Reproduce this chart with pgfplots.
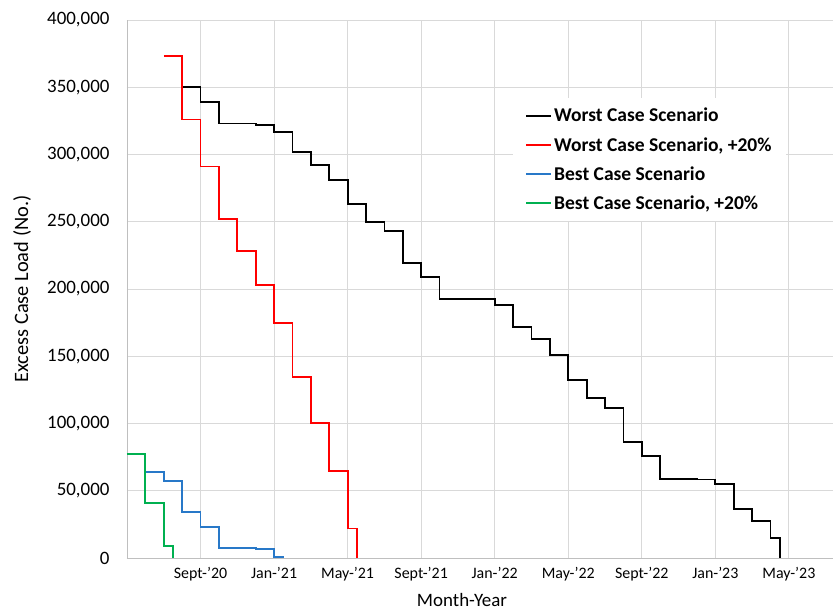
\documentclass[border=0pt]{standalone}
\usepackage{pgfplots}
\pgfplotsset{compat=1.18}
\usepackage{fontspec}
\setmainfont{Carlito}
\definecolor{gridc}{HTML}{D9D9D9}
\definecolor{axc}{HTML}{BFBFBF}
\definecolor{bestblue}{HTML}{2878C8}
\definecolor{bestgreen}{HTML}{00B050}
\definecolor{worstred}{HTML}{FF0000}
\begin{document}
\begin{tikzpicture}
\begin{axis}[
  scale only axis, width=706bp, height=538bp,
  xmin=0, xmax=38.4, ymin=0, ymax=400000,
  axis x line*=bottom, axis y line*=left,
  axis line style={axc, line width=0.8pt},
  xtick={4,8,...,36},
  xticklabels={Sept-'20,Jan-'21,May-'21,Sept-'21,Jan-'22,May-'22,Sept-'22,Jan-'23,May-'23},
  ytick={0,50000,100000,150000,200000,250000,300000,350000,400000},
  yticklabels={0,{50,000},{100,000},{150,000},{200,000},{250,000},{300,000},{350,000},{400,000}},
  scaled y ticks=false,
  major tick length=0pt,
  grid=major, grid style={gridc, line width=0.8pt},
  xticklabel style={font=\fontsize{16}{16}\selectfont, yshift=-6bp},
  yticklabel style={font=\fontsize{19}{19}\selectfont, xshift=-14bp},
  xlabel={Month-Year}, ylabel={Excess Case Load (No.)},
  every axis x label/.style={at={(axis description cs:0.4745,0)}, yshift=-42bp, anchor=center, font=\fontsize{19}{19}\selectfont},
  every axis y label/.style={at={(axis description cs:0,0.5)}, xshift=-105bp, rotate=90, anchor=center, font=\fontsize{20.5}{20.5}\selectfont},
  legend image code/.code={\draw[#1, line width=1.8pt] (0bp,0bp) -- (25bp,0bp);},
  legend cell align=left,
  legend style={at={(axis description cs:0.547,0.855)}, anchor=north west, draw=none, fill=white,
    font=\bfseries\fontsize{19.6}{19.6}\selectfont, row sep=10bp, inner xsep=12bp, inner ysep=8bp},
]
\addplot[const plot, black, line width=1.8pt] coordinates {
(3,350000) (4,338800) (5,323000) (7,322000) (8,316500) (9,302000) (10,292000) (11,281000)
(12,263000) (13,250000) (14,243000) (15,219500) (16,208700) (17,192800) (19,192300) (20,188000)
(21,172000) (22,162600) (23,151000) (24,132300) (25,118700) (26,111700) (27,86000) (28,75800)
(29,58700) (31,58300) (32,54800) (33,36400) (34,27500) (35,14600) (35.5,0)};
\addlegendentry{Worst Case Scenario}
\addplot[const plot, worstred, line width=1.8pt] coordinates {
(2,373000) (3,326000) (4,291000) (5,252000) (6,228000) (7,203000) (8,174500) (9,134800)
(10,100100) (11,64700) (12,22000) (12.5,0)};
\addlegendentry{Worst Case Scenario, +20\%}
\addplot[const plot, bestblue, line width=1.8pt] coordinates {
(0,77300) (1,64000) (2,57200) (3,34400) (4,22800) (5,7700) (7,6500) (8,1000) (8.5,0)};
\addlegendentry{Best Case Scenario}
\addplot[const plot, bestgreen, line width=1.8pt] coordinates {
(0,77300) (1,40600) (2,9100) (2.5,0)};
\addlegendentry{Best Case Scenario, +20\%}
\end{axis}
\pgfresetboundingbox
\path ([shift={(-127bp,-54bp)}]current axis.south west) rectangle ([shift={(0bp,20bp)}]current axis.north east);
\end{tikzpicture}
\end{document}
